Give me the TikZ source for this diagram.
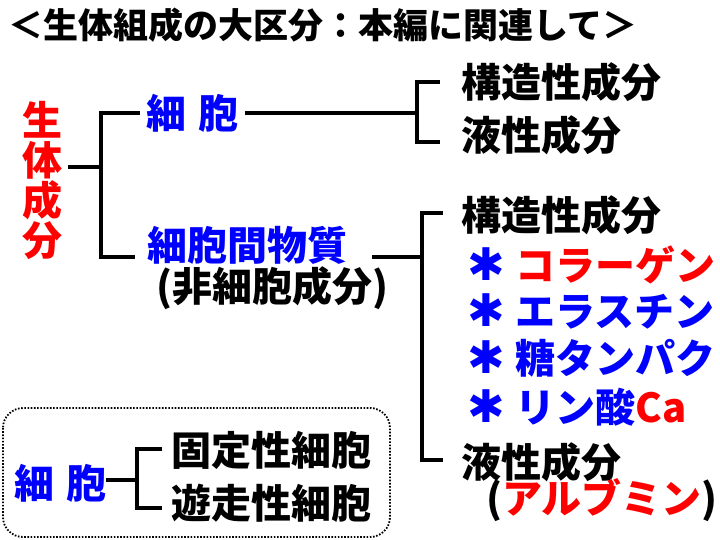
\documentclass[tikz,border=0pt]{standalone}
\usepackage{fontspec}
\setmainfont{Noto Sans CJK JP Black}
\newfontfamily\djv{DejaVu Sans}
\definecolor{jred}{RGB}{255,0,0}
\definecolor{jblue}{RGB}{0,0,255}
\newcommand{\hast}{\textcolor{jblue}{\makebox[40pt]{\djv\fontsize{45}{45}\selectfont ✱}}}
\begin{document}
\begin{tikzpicture}[x=1pt,y=-1pt,
  txt/.style={inner sep=0pt, anchor=west, font=\fontsize{40}{40}\selectfont},
  conn/.style={line width=3.5pt, black},
  dotbox/.style={line width=1.8pt, dash pattern=on 1.6pt off 1.6pt, rounded corners=20pt}]
\useasboundingbox (0,0) rectangle (720,540);
% title
\node[txt, font=\fontsize{35}{35}\selectfont] (title) at (8,25) {＜生体組成の大区分：本編に関連して＞};
% root
\node[inner sep=0pt, align=center, text=jred, font=\fontsize{40}{40}\selectfont] (root) at (43,180) {生\\体\\成\\分};
% level 1
\node[txt, text=jblue] (cell) at (146,113) {細\hspace{12pt}胞};
\node[txt, text=jblue] (ecm) at (147,245) {細胞間物質};
\node[txt] (nonc) at (156,288) {(非細胞成分)};
% cell branch
\node[txt] (s1) at (461,82) {構造性成分};
\node[txt] (l1) at (461,135) {液性成分};
% ecm branch
\node[txt] (s2) at (461,215) {構造性成分};
\node[txt] (i1) at (466,265) {\hast\ \textcolor{jred}{コラーゲン}};
\node[txt, text=jblue] (i2) at (466,311) {\hast\ エラスチン};
\node[txt, text=jblue] (i3) at (466,358) {\hast\ 糖タンパク};
\node[txt] (i4) at (466,407) {\hast\ \textcolor{jblue}{リン酸}\textcolor{jred}{Ca}};
\node[txt] (l2) at (461,462) {液性成分};
\node[txt] (alb) at (486,500) {(\textcolor{jred}{アルブミン})};
% bottom box
\draw[dotbox] (3,408) rectangle (390,537);
\node[txt, text=jblue] (bcell) at (14,483) {細\hspace{12pt}胞};
\node[txt] (fix) at (171,450) {固定性細胞};
\node[txt] (mov) at (171,503) {遊走性細胞};
% connectors: root bracket
\coordinate (r0) at (68,167);
\coordinate (r1) at (101,167);
\coordinate (rt) at (101,113);
\coordinate (rb) at (101,257);
\coordinate (ra) at (140,113);
\coordinate (rc) at (135,257);
\draw[conn] (r0) -- (r1);
\draw[conn] (ra) -- (rt) -- (rb) -- (rc);
% cell bracket
\coordinate (c0) at (245,113);
\coordinate (c1) at (417,113);
\coordinate (ct) at (417,82);
\coordinate (cb) at (417,142);
\coordinate (cta) at (440,82);
\coordinate (cba) at (440,142);
\draw[conn] (c0) -- (c1);
\draw[conn] (cta) -- (ct) -- (cb) -- (cba);
% ecm bracket
\coordinate (e0) at (372,257);
\coordinate (e1) at (422,257);
\coordinate (et) at (422,213);
\coordinate (eb) at (422,460);
\coordinate (eta) at (443,213);
\coordinate (eba) at (443,460);
\draw[conn] (e0) -- (e1);
\draw[conn] (eta) -- (et) -- (eb) -- (eba);
% bottom bracket
\coordinate (b0) at (106,480);
\coordinate (b1) at (137,480);
\coordinate (bt) at (137,449);
\coordinate (bb) at (137,508);
\coordinate (bta) at (162,449);
\coordinate (bba) at (162,508);
\draw[conn] (b0) -- (b1);
\draw[conn] (bta) -- (bt) -- (bb) -- (bba);
\end{tikzpicture}
\end{document}
